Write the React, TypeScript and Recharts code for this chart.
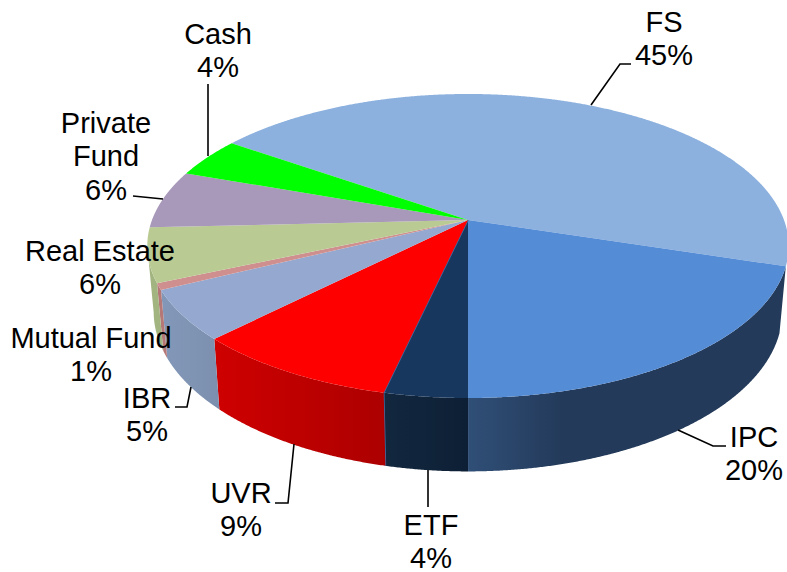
import React from "react";
import { PieChart, Pie } from "recharts";

const names = ["FS", "IPC", "ETF", "UVR", "IBR", "Mutual Fund", "Real Estate", "Private Fund", "Cash"];
const shares = [45.15, 20.18, 3.57, 8.9, 5.3, 0.7, 5.75, 6.2, 4.25];
const topColors = ["#8db1de", "#558cd6", "#17375e", "#ff0000", "#95a9d0", "#ce8f8e", "#b9cb93", "#a898b9", "#00ff00"];
const wallFrom = ["", "#304f77", "#12283f", "#cf0000", "#8398b9", "#b57877", "#a2b480", "#8f80a0", "#00cc00"];
const wallTo = ["", "#233a5a", "#0d1f35", "#ac0000", "#7c8fae", "#b57877", "#a2b480", "#8f80a0", "#00cc00"];
const seamColors = ["", "", "#3f6ea6", "", "", "", "", "", ""];

const tableData = names.map((name, i) => ({ name, value: shares[i], fill: topColors[i], idx: i }));

const labelLayout = [
  { lines: ["FS"], x: 664, y: 32, leader: "591,105 620,64 631,64" },
  { lines: ["IPC"], x: 754, y: 447, leader: "678,430 713,446 726,446" },
  { lines: ["ETF"], x: 431, y: 535, leader: "428,470 428,507" },
  { lines: ["UVR"], x: 241, y: 503, leader: "294,444 288,503 275,503" },
  { lines: ["IBR"], x: 147, y: 408, leader: "191,387 187,407 175,407" },
  { lines: ["Mutual Fund"], x: 91, y: 348, leader: "" },
  { lines: ["Real Estate"], x: 100, y: 261, leader: "" },
  { lines: ["Private", "Fund"], x: 106, y: 133, leader: "133,196 163,199" },
  { lines: ["Cash"], x: 218, y: 44, leader: "208,84 208,156" },
];

const SQUASH = 0.467; // vertical foreshortening
const PERSP = 0.171; // far side shrinks
const WALL_DX = 0.98;
const WALL_DY = 1.05;
const WALL_DEPTH = 64.5;
const RAD = Math.PI / 180;

type P = [number, number];
const rim = (deg: number, r: number): P => {
  const u = Math.cos(deg * RAD);
  const v = Math.sin(deg * RAD);
  const w = 1 + PERSP * v;
  return [(r * u) / w, (-r * SQUASH * v) / w];
};
const lower = (p: P): P => [p[0] * WALL_DX, WALL_DEPTH + p[1] * WALL_DY];
const sample = (a: number, b: number): number[] => {
  const n = Math.max(2, Math.ceil(Math.abs(b - a) / 0.25));
  return Array.from({ length: n + 1 }, (_, i) => a + ((b - a) * i) / n);
};
const toPath = (pts: P[], cx: number, cy: number) =>
  "M" + pts.map((p) => `${(p[0] + cx).toFixed(2)},${(p[1] + cy).toFixed(2)}`).join("L") + "Z";

function Slice(props: any) {
  const { cx, cy, outerRadius, startAngle, endAngle, fill, payload } = props;
  const idx = payload?.idx ?? props.idx ?? 0;
  const angles = sample(startAngle, endAngle);
  const arc = angles.map((a) => rim(a, outerRadius));
  const top = toPath([[0, 0], ...arc], cx, cy);
  const front = angles.filter((a) => Math.sin(a * RAD) < -PERSP);
  const hasWall = wallFrom[idx] !== "" && front.length > 1;
  const frontArc = front.map((a) => rim(a, outerRadius));
  const wall = hasWall ? toPath([...frontArc, ...frontArc.map(lower).reverse()], cx, cy) : "";
  const gid = `wall-${idx}`;
  const seam = seamColors[idx];
  const seamEnd = rim(endAngle, outerRadius);
  const seamLow = lower(seamEnd);
  return (
    <g>
      {hasWall && (
        <defs>
          <linearGradient id={gid} x1="0" y1="0" x2="1" y2="0">
            <stop offset="0" stopColor={wallFrom[idx]} />
            <stop offset={idx === 1 ? "0.3" : "1"} stopColor={wallTo[idx]} />
          </linearGradient>
        </defs>
      )}
      {hasWall && <path d={wall} fill={`url(#${gid})`} stroke="none" />}
      <path d={top} fill={fill} stroke="none" />
      {seam && (
        <polyline
          points={`${cx},${cy} ${cx + seamEnd[0]},${cy + seamEnd[1]} ${cx + seamLow[0]},${cy + seamLow[1]}`}
          fill="none"
          stroke={seam}
          strokeWidth={1.5}
        />
      )}
    </g>
  );
}

function SliceLabel(props: any) {
  const { index, percent } = props;
  const layout = labelLayout[index];
  const pct = `${Math.round(percent * 100)}%`;
  const rows = [...layout.lines, pct];
  return (
    <g>
      {layout.leader && <polyline points={layout.leader} fill="none" stroke="#000000" strokeWidth={1.6} />}
      {rows.map((row, i) => (
        <text
          key={i}
          x={layout.x}
          y={layout.y + i * 33.3}
          textAnchor="middle"
          fontFamily="'Liberation Sans', Arial, sans-serif"
          fontSize={29}
          fill="#000000"
        >
          {row}
        </text>
      ))}
    </g>
  );
}

export default function App() {
  return (
    <div style={{ position: "absolute", left: 0, top: 0, width: 787, height: 572, background: "#ffffff" }}>
      <PieChart width={787} height={572} margin={{ top: 0, right: 0, bottom: 0, left: 0 }}>
        <Pie
          data={tableData}
          dataKey="value"
          nameKey="name"
          cx={468}
          cy={220}
          outerRadius={316}
          startAngle={145.2}
          endAngle={-214.8}
          paddingAngle={0}
          stroke="none"
          isAnimationActive={false}
          shape={Slice}
          label={SliceLabel}
          labelLine={false}
        />
      </PieChart>
    </div>
  );
}
